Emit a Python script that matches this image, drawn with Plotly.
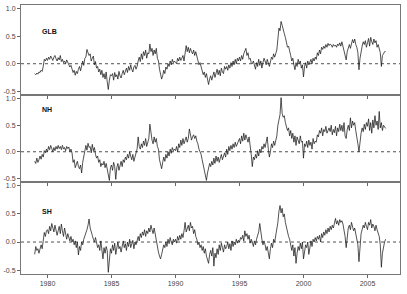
import plotly.graph_objects as go

START_YEAR = 1979
panel_names = ["GLB", "NH", "SH"]
x_tick_labels = ["1980", "1985", "1990", "1995", "2000", "2005"]
x_tick_vals = [1980, 1985, 1990, 1995, 2000, 2005]
y_tick_vals = [-0.5, 0.0, 0.5, 1.0]
y_tick_labels = ["-0.5", "0.0", "0.5", "1.0"]

glb = [
    -0.18,-0.20,-0.17,-0.19,-0.15,-0.16,-0.12,-0.14,-0.05,0.08,0.05,0.10,
    0.06,0.12,0.08,0.14,0.10,0.06,0.12,0.15,0.09,0.05,0.11,0.07,
    0.15,0.04,0.08,0.02,0.05,0.00,0.07,0.03,0.00,-0.06,-0.03,-0.10,
    -0.16,-0.12,-0.21,-0.14,-0.18,-0.10,-0.05,-0.13,-0.02,0.05,-0.03,0.10,
    0.12,0.26,0.20,0.15,0.18,0.05,0.10,0.14,-0.02,0.04,-0.08,-0.05,
    -0.15,-0.10,-0.20,-0.12,-0.25,-0.18,-0.28,-0.15,-0.33,-0.47,-0.30,-0.20,
    -0.22,-0.18,-0.30,-0.16,-0.24,-0.20,-0.28,-0.14,-0.22,-0.26,-0.18,-0.12,
    -0.20,-0.12,-0.08,-0.16,-0.05,-0.12,-0.02,-0.10,-0.15,-0.06,-0.03,-0.10,
    -0.05,0.05,0.12,0.04,0.18,0.08,0.22,0.15,0.25,0.10,0.20,0.18,
    0.36,0.22,0.28,0.15,0.25,0.18,0.28,0.10,0.05,-0.10,-0.18,-0.28,
    -0.22,-0.12,-0.18,-0.06,-0.10,0.00,-0.05,0.05,-0.02,0.08,0.02,0.05,
    0.02,0.00,0.10,0.05,0.12,0.06,0.10,0.15,0.05,0.20,0.33,0.22,
    0.30,0.20,0.28,0.22,0.18,0.25,0.15,0.22,0.12,0.08,-0.02,0.02,
    -0.05,-0.10,-0.20,-0.15,-0.25,-0.18,-0.32,-0.38,-0.28,-0.22,-0.30,-0.20,
    -0.15,-0.25,-0.18,-0.10,-0.20,-0.12,-0.22,-0.08,-0.15,-0.18,-0.05,-0.10,
    -0.05,-0.12,-0.02,-0.08,0.02,-0.05,0.05,-0.02,0.08,0.00,0.10,0.05,
    0.12,0.05,0.15,0.08,0.18,0.22,0.28,0.15,0.20,0.08,0.10,0.02,
    0.00,0.05,-0.02,-0.10,0.02,-0.05,0.08,-0.03,0.05,-0.08,0.02,0.10,
    0.05,-0.02,0.08,0.00,-0.05,0.03,0.12,0.08,0.18,0.12,0.20,0.25,
    0.45,0.65,0.60,0.77,0.70,0.60,0.55,0.48,0.40,0.30,0.32,0.20,
    0.15,0.05,0.10,-0.02,-0.11,0.02,-0.05,0.08,0.00,0.05,-0.08,-0.02,
    -0.24,-0.05,0.02,-0.08,0.05,-0.02,0.04,0.08,0.00,0.10,0.05,0.12,
    0.08,0.20,0.15,0.25,0.18,0.30,0.26,0.32,0.28,0.35,0.30,0.37,
    0.33,0.36,0.34,0.30,0.35,0.32,0.34,0.30,0.36,0.33,0.38,0.32,
    0.40,0.30,0.25,0.15,0.07,0.22,0.30,0.35,0.28,0.40,0.44,0.38,
    0.45,0.35,0.30,0.20,-0.11,0.10,0.25,0.32,0.40,0.35,0.42,0.30,
    0.38,0.46,0.32,0.48,0.40,0.35,0.45,0.38,0.42,0.30,0.35,0.25,
    0.20,-0.05,0.15,0.18,0.22,0.22,
]

nh = [
    -0.18,-0.22,-0.12,-0.20,-0.15,-0.08,-0.14,-0.05,-0.10,0.02,-0.02,0.05,
    0.00,0.10,0.04,0.12,0.06,0.00,0.08,0.02,0.10,0.05,0.12,0.06,
    0.10,0.04,0.12,0.05,0.08,0.02,0.10,0.06,0.09,0.00,0.05,-0.02,
    -0.20,-0.15,-0.30,-0.22,-0.18,-0.28,-0.32,-0.25,-0.40,-0.20,-0.10,0.05,
    0.12,0.03,0.16,0.08,0.10,-0.02,0.14,0.02,0.08,-0.05,-0.12,-0.08,
    -0.20,-0.15,-0.28,-0.22,-0.25,-0.18,-0.30,-0.22,-0.35,-0.42,-0.54,-0.30,
    -0.25,-0.35,-0.20,-0.28,-0.52,-0.30,-0.22,-0.35,-0.25,-0.18,-0.28,-0.15,
    -0.20,-0.10,-0.15,-0.05,-0.12,0.00,-0.08,-0.15,-0.05,-0.18,-0.10,-0.02,
    0.05,0.28,0.10,0.05,0.15,0.08,0.20,0.12,0.25,0.10,0.18,0.25,
    0.52,0.30,0.22,0.15,0.28,0.18,0.25,0.10,0.05,-0.15,-0.25,-0.32,
    -0.20,-0.10,-0.18,-0.05,-0.12,0.00,-0.08,0.05,-0.03,0.08,0.02,0.05,
    0.02,0.10,0.00,0.15,0.08,0.22,0.12,0.25,0.15,0.20,0.28,0.18,
    0.25,0.43,0.30,0.22,0.28,0.32,0.25,0.30,0.20,0.15,0.05,0.00,
    -0.05,-0.15,-0.25,-0.35,-0.45,-0.54,-0.40,-0.30,-0.22,-0.28,-0.18,-0.25,
    -0.12,-0.22,-0.08,-0.18,-0.10,-0.20,-0.12,-0.05,-0.15,-0.08,-0.02,-0.10,
    0.05,-0.05,0.10,0.02,0.12,0.05,0.15,0.08,0.18,0.10,0.15,0.20,
    0.25,0.15,0.30,0.20,0.35,0.22,0.32,0.25,0.18,0.28,0.15,-0.05,
    -0.28,-0.10,-0.15,-0.05,-0.12,0.02,-0.08,0.05,-0.02,0.10,0.05,0.15,
    0.08,0.22,0.28,0.05,-0.10,0.00,0.15,0.08,0.20,0.12,0.22,0.30,
    0.50,0.62,0.70,1.02,0.72,0.65,0.68,0.55,0.48,0.40,0.45,0.30,
    0.40,0.25,0.35,0.18,0.30,0.12,0.28,0.22,0.15,0.30,0.18,0.20,
    -0.12,0.15,0.10,0.20,0.08,0.22,0.12,0.18,0.05,0.25,0.15,0.20,
    0.18,0.32,0.28,0.40,0.35,0.45,0.30,0.42,0.38,0.48,0.35,0.40,
    0.45,0.38,0.50,0.32,0.42,0.36,0.48,0.30,0.45,0.38,0.52,0.40,
    0.50,0.38,0.55,0.30,0.25,0.42,0.50,0.40,0.64,0.45,0.58,0.50,
    0.55,0.40,0.30,0.15,0.00,0.20,0.35,0.45,0.38,0.52,0.42,0.55,
    0.48,0.62,0.40,0.55,0.35,0.60,0.45,0.68,0.50,0.58,0.42,0.76,
    0.45,0.55,0.40,0.50,0.48,0.44,
]

sh = [
    -0.22,-0.08,-0.15,-0.12,-0.20,-0.10,-0.05,-0.12,0.05,0.17,0.10,0.20,
    0.22,0.15,0.28,0.20,0.33,0.25,0.18,0.30,0.22,0.12,0.20,0.28,
    0.15,0.32,0.20,0.10,0.25,0.12,0.05,0.15,0.08,0.02,0.10,0.00,
    0.05,-0.05,0.02,-0.10,0.00,-0.23,-0.08,-0.15,0.00,-0.05,0.05,0.10,
    0.15,0.22,0.30,0.41,0.25,0.20,0.12,0.05,0.00,0.08,-0.05,-0.10,
    -0.05,-0.15,0.02,-0.18,-0.30,-0.10,-0.20,-0.08,-0.15,-0.54,-0.25,-0.12,
    -0.20,-0.05,-0.15,-0.02,-0.22,-0.10,0.00,-0.12,-0.08,-0.18,-0.05,0.02,
    -0.10,-0.03,-0.15,0.00,-0.08,0.05,-0.10,-0.02,0.03,-0.12,0.00,-0.05,
    0.05,0.10,0.02,0.15,0.08,0.18,0.12,0.22,0.10,0.20,0.15,0.25,
    0.18,0.30,0.22,0.15,0.25,0.12,0.05,-0.05,-0.18,-0.25,-0.30,-0.22,
    -0.15,-0.05,-0.10,0.00,-0.08,0.05,-0.03,0.08,0.00,-0.05,0.05,0.00,
    0.05,-0.02,0.10,0.03,0.12,0.05,0.15,0.08,0.20,0.35,0.18,0.25,
    0.30,0.20,0.35,0.25,0.28,0.15,0.22,0.10,0.05,-0.05,0.00,-0.10,
    -0.05,-0.15,-0.08,-0.20,-0.12,-0.25,-0.30,-0.38,-0.22,-0.15,-0.25,-0.10,
    -0.43,-0.20,-0.28,-0.12,-0.22,-0.05,-0.15,-0.02,-0.10,-0.18,-0.05,-0.12,
    -0.08,0.00,-0.12,-0.03,-0.15,0.02,-0.08,0.00,-0.05,0.05,-0.02,0.03,
    0.00,0.08,0.05,0.12,0.02,0.20,0.10,0.15,0.05,0.12,-0.02,0.05,
    0.00,-0.08,0.02,-0.05,0.05,0.10,0.18,0.33,0.15,0.05,-0.05,0.02,
    -0.05,-0.15,-0.08,-0.20,-0.30,-0.12,-0.02,-0.10,0.05,0.00,0.10,0.20,
    0.35,0.55,0.65,0.52,0.60,0.45,0.50,0.35,0.25,0.20,0.10,0.05,
    -0.05,-0.15,-0.05,-0.25,-0.10,-0.38,-0.20,-0.08,-0.15,-0.02,-0.12,0.00,
    -0.30,-0.15,-0.05,-0.10,0.00,-0.22,-0.05,0.02,-0.08,0.05,0.00,0.08,
    0.02,0.10,0.05,0.12,0.00,0.15,0.08,0.18,0.12,0.22,0.15,0.25,
    0.18,0.28,0.22,0.30,0.25,0.35,0.42,0.32,0.38,0.30,0.40,0.35,
    0.38,0.32,0.22,0.10,-0.10,0.15,0.25,0.30,0.22,0.35,0.28,0.20,
    0.25,0.15,0.10,-0.05,-0.35,0.00,0.15,0.22,0.30,0.25,0.35,0.28,
    0.22,0.35,0.30,0.40,0.25,0.32,0.28,0.20,0.30,0.22,0.15,0.10,
    -0.05,-0.45,-0.20,-0.05,0.00,0.05,
]

series = [glb, nh, sh]
years = [START_YEAR + i / 12 for i in range(len(glb))]

W, H = 407, 294
ML, MR, MT, MB = 21, 7, 5, 20
ph = H - MT - MB
# panel pixel edges (top, bottom) in page coords
edges = [(5, 95), (95, 182), (182, 274)]
domains = [[(H - MB - b) / ph, (H - MB - t) / ph] for t, b in edges]
label_y = [0.58, 0.80, 0.54]

fig = go.Figure()
for k, (name, vals) in enumerate(zip(panel_names, series)):
    ax = "" if k == 0 else str(k + 1)
    fig.add_trace(go.Scatter(x=years, y=vals, mode="lines",
                             line=dict(color="#1a1a1a", width=0.75),
                             xaxis="x" + ax, yaxis="y" + ax, showlegend=False))
    fig.add_shape(type="line", xref="x" + ax + " domain", yref="y" + ax,
                  x0=0, x1=1, y0=0, y1=0,
                  line=dict(color="#222222", width=0.8, dash="3px,3px"))
    fig.add_annotation(text="<b>" + name + "</b>", xref="x" + ax, yref="y" + ax,
                       x=1979.4, y=label_y[k], xanchor="left", yanchor="middle",
                       showarrow=False, font=dict(size=7, color="#111111",
                                                  family="Liberation Sans, Arial"))
    xkey = "xaxis" + ax
    ykey = "yaxis" + ax
    fig.update_layout(**{
        xkey: dict(range=[1977.93, 2007.54], domain=[0, 1],
                   anchor="y" + ax, tickvals=x_tick_vals, ticktext=x_tick_labels,
                   showticklabels=(k == 2), ticks="outside", ticklen=3,
                   tickcolor="#666666", tickwidth=1,
                   showline=True, linecolor="#777777", linewidth=1, mirror=True,
                   showgrid=False, zeroline=False,
                   tickfont=dict(size=7, color="#444444", family="Liberation Sans, Arial")),
        ykey: dict(range=[-0.57, 1.07], domain=domains[k], anchor="x" + ax,
                   tickvals=y_tick_vals, ticktext=y_tick_labels,
                   ticks="outside", ticklen=3, tickcolor="#666666", tickwidth=1,
                   showline=True, linecolor="#777777", linewidth=1, mirror=True,
                   showgrid=False, zeroline=False,
                   tickfont=dict(size=7, color="#444444", family="Liberation Sans, Arial")),
    })

fig.update_layout(width=W, height=H, margin=dict(l=ML, r=MR, t=MT, b=MB),
                  plot_bgcolor="white", paper_bgcolor="white")
fig.write_html("out.html")
